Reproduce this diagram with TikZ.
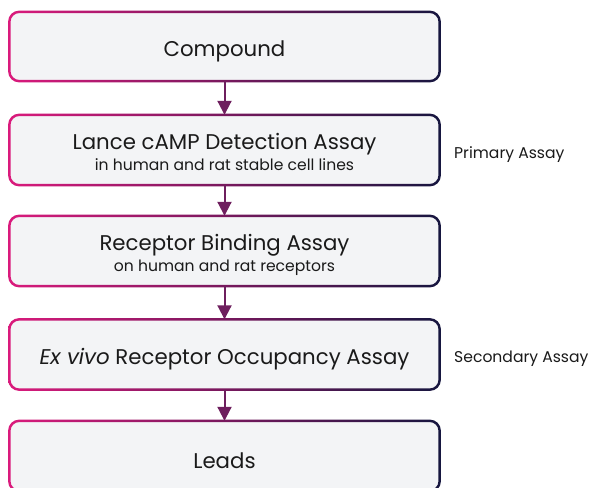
\documentclass[tikz,border=0pt]{standalone}
\usepackage{fontspec}
\setmainfont{Poppins}
\usetikzlibrary{arrows.meta,calc}
\definecolor{pk}{HTML}{DA1A7C}
\definecolor{nv}{HTML}{16163F}
\definecolor{bx}{HTML}{F3F4F6}
\definecolor{tx}{HTML}{1A1A1A}
\definecolor{ar}{HTML}{6E1F5E}
\tikzset{
  box/.style={fill=bx, draw=none, rounded corners=10pt, minimum width=430pt, minimum height=70pt, inner sep=0pt, align=center, text=tx, font=\fontsize{21.3}{25}\selectfont},
  side/.style={anchor=west, text=tx, font=\fontsize{15.6}{18}\selectfont, inner sep=0pt},
  flow/.style={draw=ar, line width=2pt, -{Triangle[length=14pt,width=14pt]}, ar}
}
\newcommand{\gradring}[1]{%
  \shade[left color=pk, right color=nv, even odd rule]
    [rounded corners=11.25pt] ([shift={(-1.25pt,-1.25pt)}]#1.south west) rectangle ([shift={(1.25pt,1.25pt)}]#1.north east)
    [rounded corners=8.75pt] ([shift={(1.25pt,1.25pt)}]#1.south west) rectangle ([shift={(-1.25pt,-1.25pt)}]#1.north east);}
\newcommand{\one}[1]{\raisebox{-5pt}[\height][\depth]{#1}}
\newcommand{\two}[2]{\raisebox{-5pt}[\height][\depth]{\begin{tabular}{@{}c@{}}#1\\[-4pt]{\fontsize{15.6}{18}\selectfont #2}\end{tabular}}}
\begin{document}
\begin{tikzpicture}[x=1pt,y=-1pt]
\useasboundingbox (0,0) rectangle (591,487);
\node[box, minimum height=69pt] (c) at (224.5,46.5) {\one{Compound}};
\node[box] (l) at (224.5,150) {\two{Lance cAMP Detection Assay}{in human and rat stable cell lines}};
\node[box] (r) at (224.5,251) {\two{Receptor Binding Assay}{on human and rat receptors}};
\node[box] (e) at (224.5,354.5) {\one{\textit{Ex vivo} Receptor Occupancy Assay}};
\node[box] (d) at (224.5,456) {\one{Leads}};
\gradring{c}\gradring{l}\gradring{r}\gradring{e}\gradring{d}
\node[side] (p) at (454,155) {Primary Assay};
\node[side] (s) at (454,359) {Secondary Assay};
\draw[flow] (c.south) -- (l.north);
\draw[flow] (l.south) -- (r.north);
\draw[flow] (r.south) -- (e.north);
\draw[flow] (e.south) -- (d.north);
\end{tikzpicture}
\end{document}
